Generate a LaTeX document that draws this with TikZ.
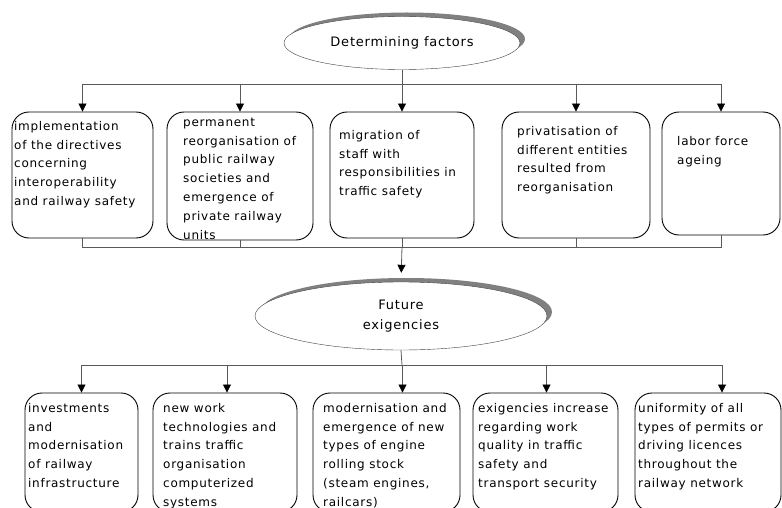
\documentclass[tikz,border=0pt]{standalone}
\usepackage{fontspec}
\setmainfont{DejaVu Sans}[LetterSpace=6]
\usetikzlibrary{arrows.meta,shapes.geometric,shadows}

\begin{document}
\begin{tikzpicture}[x=1pt,y=-1pt,
  box/.style 2 args={draw,rounded corners=17pt,line width=.9pt,minimum width=#1,minimum height=#2,inner sep=0pt},
  txt/.style={anchor=north west,align=left,inner sep=0pt,font=\fontsize{12}{18.8}\selectfont},
  oval/.style 2 args={draw=black!75,ellipse,fill=white,minimum width=#1,minimum height=#2,align=center,
    font=\fontsize{13}{20}\selectfont,drop shadow={shadow xshift=5pt,shadow yshift=4pt,fill=black!50,opacity=1}},
  link/.style={draw=black!65,line width=.8pt},
  arr/.style={link,-{Triangle[width=8pt,length=8pt,color=black]}}]
\useasboundingbox (0,0) rectangle (782,508);
\clip (0,0) rectangle (782,508);

\node[oval={236pt}{53pt}] (det) at (402,43) {Determining factors};
\node[oval={292pt}{68pt}] (fut) at (401,316) {Future\\exigencies};

\node[box={141pt}{126pt}] (f1) at (82.5,175) {};
\node[box={146pt}{128pt}] (f2) at (240,176) {};
\node[box={144pt}{126pt}] (f3) at (402,175) {};
\node[box={148pt}{126pt}] (f4) at (576,175) {};
\node[box={118pt}{123pt}] (f5) at (721,173.5) {};

\node[txt] (t1) at (14,117) {\strut implementation\\of the directives\\concerning\\interoperability\\and railway safety};
\node[txt] (t2) at (183,113) {\strut permanent\\reorganisation of\\public railway\\societies and\\emergence of\\private railway\\units};
\node[txt] (t3) at (339,126) {\strut migration of\\staff with\\responsibilities in\\traffic safety};
\node[txt] (t4) at (517,122) {\strut privatisation of\\different entities\\resulted from\\reorganisation};
\node[txt] (t5) at (677,132) {\strut labor force\\ageing};

\node[box={113pt}{119pt}] (g1) at (81.5,452.5) {};
\node[box={144pt}{119pt}] (g2) at (225,452.5) {};
\node[box={147pt}{119pt}] (g3) at (386.5,452.5) {};
\node[box={145pt}{119pt}] (g4) at (545.5,452.5) {};
\node[box={146pt}{119pt}] (g5) at (708,452.5) {};

\node[txt] (u1) at (28,399) {\strut investments\\and\\modernisation\\of railway\\infrastructure};
\node[txt] (u2) at (163,399) {\strut new work\\technologies and\\trains traffic\\organisation\\computerized\\systems};
\node[txt] (u3) at (323,399) {\strut modernisation and\\emergence of new\\types of engine\\rolling stock\\(steam engines,\\railcars)};
\node[txt] (u4) at (478,399) {\strut exigencies increase\\regarding work\\quality in traffic\\safety and\\transport security};
\node[txt] (u5) at (638,399) {\strut uniformity of all\\types of permits or\\driving licences\\throughout the\\railway network};

\coordinate (top) at (402,84);
\coordinate (mid) at (402,247);
\coordinate (low) at (402,365);

\draw[link] (det.south) -- (top);
\foreach \b in {f1,f2,f3,f4,f5}
  \draw[arr] (top) -| (\b.north);
\foreach \b in {f1,f2,f3,f4,f5}
  \draw[link] (\b.south) |- (mid);
\draw[arr,shorten >=9pt] (mid) -- (fut.north);

\draw[link] (fut.south) -- (low);
\foreach \b/\s in {g1/0,g2/2,g3/16,g4/1,g5/14}
  \draw[arr] (low) -| ([xshift=\s pt]\b.north);
\end{tikzpicture}
\end{document}
